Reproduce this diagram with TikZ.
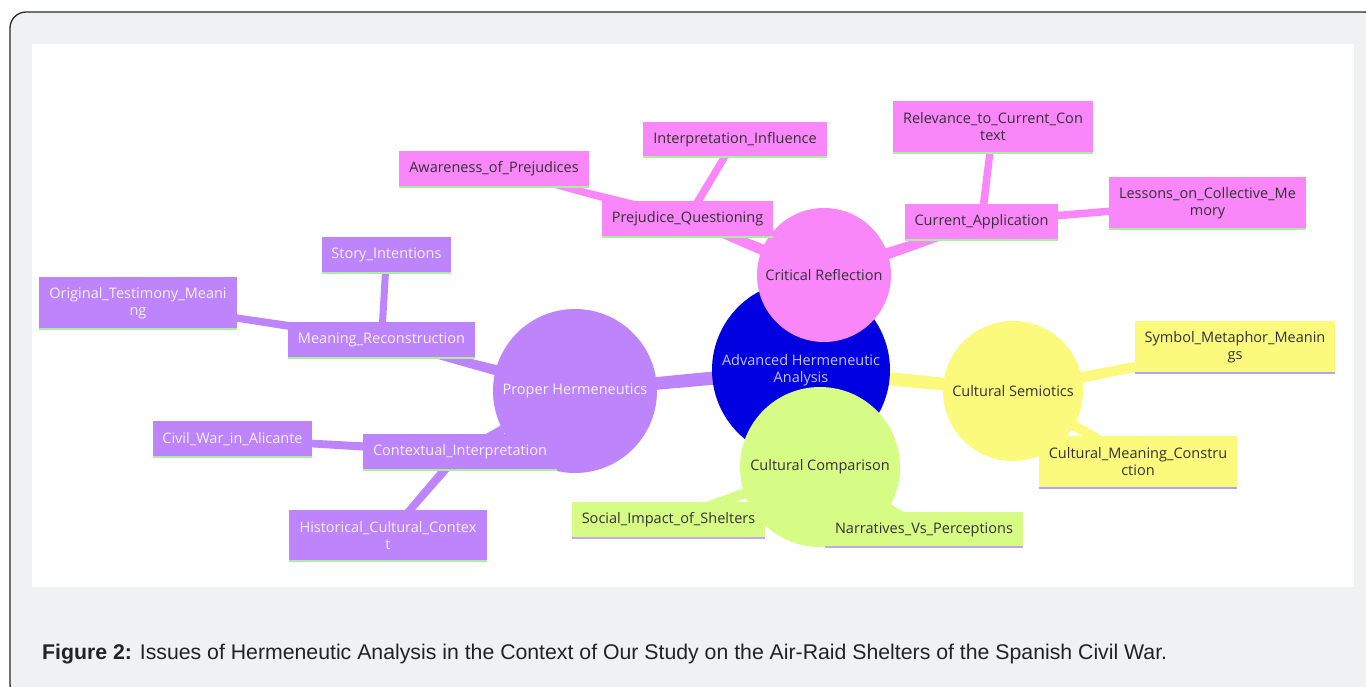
\documentclass[tikz,border=0pt]{standalone}
\usepackage{fontspec}
\setmainfont{Liberation Sans}
\newfontfamily\mmfont{Open Sans}
\usetikzlibrary{calc}
\definecolor{frameg}{HTML}{F0F1F3}
\definecolor{framed}{HTML}{2A2A2A}
\definecolor{mmblue}{HTML}{0000E0}
\definecolor{mmpink}{HTML}{F987F9}
\definecolor{mmpurple}{HTML}{BE84FC}
\definecolor{mmyellow}{HTML}{FCFA7C}
\definecolor{mmgreen}{HTML}{D6FC86}
\definecolor{mmdark}{HTML}{353035}
\definecolor{mmwhite}{HTML}{F6F0FF}
\definecolor{mmlav}{HTML}{C4C4FF}
\definecolor{linegreen}{HTML}{A8F0A0}
\definecolor{lineblue}{HTML}{A8A8F4}
\definecolor{linepurple}{HTML}{C0A8F0}
\definecolor{captxt}{HTML}{222222}
\pgfdeclarelayer{framelayer}
\pgfdeclarelayer{connlayer}
\pgfsetlayers{framelayer,connlayer,main}
\newcommand\mmconn[5]{%
  \fill[#5] ($(#1.center)!#3!90:(#2.center)$) -- ($(#2.center)!#4!-90:(#1.center)$)
    -- ($(#2.center)!#4!90:(#1.center)$) -- ($(#1.center)!#3!-90:(#2.center)$) -- cycle;}
\begin{document}
\begin{tikzpicture}[x=1pt,y=-1pt,
  mmtext/.style={font=\mmfont\fontsize{14.5}{17}\selectfont, align=center},
  circ/.style={mmtext, circle, inner sep=0pt},
  box/.style={mmtext, rectangle, inner sep=0pt, minimum height=36pt},
  boxtwo/.style={mmtext, rectangle, inner sep=0pt, minimum height=52pt},
  underline/.style={path picture={\draw[line width=3pt, #1]
     (path picture bounding box.south west) -- (path picture bounding box.south east);}},
  pinkbox/.style={fill=mmpink, text=mmdark, underline=linegreen},
  purplebox/.style={fill=mmpurple, text=mmwhite, underline=linegreen},
  yellowbox/.style={fill=mmyellow, text=mmdark, underline=lineblue},
  greenbox/.style={fill=mmgreen, text=mmdark, underline=linepurple},
  captionstyle/.style={anchor=base west, inner sep=0pt, text=captxt, font=\fontsize{19}{22}\selectfont}
]
\useasboundingbox (0,0) rectangle (1366,686);
\clip (0,0) rectangle (1366,686);
\begin{pgfonlayer}{framelayer}
  \draw[fill=frameg, draw=framed, line width=1.3pt, rounded corners=16pt] (10,12) rectangle (1380,700);
  \fill[white] (32,44) rectangle (1354,587);
\end{pgfonlayer}

% circles
\node[circ, fill=mmblue, text=mmlav, minimum size=178pt] (central) at (801,370) {Advanced Hermeneutic\\Analysis};
\node[circ, fill=mmpink, text=mmdark, minimum size=134pt] (crit) at (824,275) {Critical Reflection};
\node[circ, fill=mmgreen, text=mmdark, minimum size=160pt] (comp) at (820,467) {Cultural Comparison};
\node[circ, fill=mmpurple, text=mmwhite, minimum size=164pt] (proper) at (575,391) {Proper Hermeneutics};
\node[circ, fill=mmyellow, text=mmdark, minimum size=140pt] (semio) at (1013,391) {Cultural Semiotics};

% pink boxes
\node[box, pinkbox, minimum width=190pt] (aware) at (494,169) {Awareness\_of\_Prejudices};
\node[box, pinkbox, minimum width=184pt] (interp) at (735,139.5) {Interpretation\_Influence};
\node[box, pinkbox, minimum width=171pt] (prejq) at (687.5,219) {Prejudice\_Questioning};
\node[boxtwo, pinkbox, minimum width=200pt] (relev) at (993,127) {Relevance\_to\_Current\_Con\\text};
\node[box, pinkbox, minimum width=153pt] (curapp) at (981.5,222) {Current\_Application};
\node[boxtwo, pinkbox, minimum width=197pt] (lessons) at (1207.5,203) {Lessons\_on\_Collective\_Me\\mory};

% purple boxes
\node[box, purplebox, minimum width=129pt] (story) at (386.5,255) {Story\_Intentions};
\node[boxtwo, purplebox, minimum width=198pt] (orig) at (138,303) {Original\_Testimony\_Meani\\ng};
\node[box, purplebox, minimum width=187pt] (meanrec) at (381.5,340) {Meaning\_Reconstruction};
\node[box, purplebox, minimum width=159pt] (civil) at (232.5,439) {Civil\_War\_in\_Alicante};
\node[box, purplebox, minimum width=194pt] (context) at (460,452) {Contextual\_Interpretation};
\node[boxtwo, purplebox, minimum width=198pt] (hist) at (388,535.5) {Historical\_Cultural\_Contex\\t};

% yellow boxes
\node[boxtwo, yellowbox, minimum width=200pt] (symbol) at (1235,347) {Symbol\_Metaphor\_Meanin\\gs};
\node[boxtwo, yellowbox, minimum width=198pt] (cmc) at (1138,462) {Cultural\_Meaning\_Constru\\ction};

% green boxes
\node[box, greenbox, minimum width=193pt] (social) at (668.5,520) {Social\_Impact\_of\_Shelters};
\node[box, greenbox, minimum width=198pt] (narr) at (924,529.5) {Narratives\_Vs\_Perceptions};

% connectors
\begin{pgfonlayer}{connlayer}
  \mmconn{central}{crit}{7pt}{6pt}{mmpink}
  \mmconn{central}{proper}{7pt}{6pt}{mmpurple}
  \mmconn{central}{semio}{7pt}{6pt}{mmyellow}
  \mmconn{central}{comp}{7pt}{6pt}{mmgreen}
  \mmconn{crit}{prejq}{7pt}{3.5pt}{mmpink}
  \mmconn{crit}{curapp}{7pt}{3.5pt}{mmpink}
  \mmconn{prejq}{aware}{5pt}{2.5pt}{mmpink}
  \mmconn{prejq}{interp}{4pt}{3.5pt}{mmpink}
  \mmconn{curapp}{relev}{4pt}{3.5pt}{mmpink}
  \mmconn{curapp}{lessons}{4pt}{3.5pt}{mmpink}
  \mmconn{proper}{meanrec}{6.5pt}{3pt}{mmpurple}
  \mmconn{proper}{context}{6.5pt}{3pt}{mmpurple}
  \mmconn{meanrec}{story}{3.5pt}{3.5pt}{mmpurple}
  \mmconn{meanrec}{orig}{4.5pt}{3pt}{mmpurple}
  \mmconn{context}{civil}{4.5pt}{3.5pt}{mmpurple}
  \mmconn{context}{hist}{4.5pt}{3.5pt}{mmpurple}
  \mmconn{semio}{symbol}{6pt}{4pt}{mmyellow}
  \mmconn{semio}{cmc}{6pt}{4pt}{mmyellow}
  \mmconn{comp}{social}{6pt}{4pt}{mmgreen}
  \mmconn{comp}{narr}{6pt}{4pt}{mmgreen}
\end{pgfonlayer}

% caption
\node[captionstyle] (caption) at (42,659) {\resizebox{1125pt}{!}{\textbf{Figure 2:} Issues of Hermeneutic Analysis in the Context of Our Study on the Air-Raid Shelters of the Spanish Civil War.}};
\end{tikzpicture}
\end{document}
